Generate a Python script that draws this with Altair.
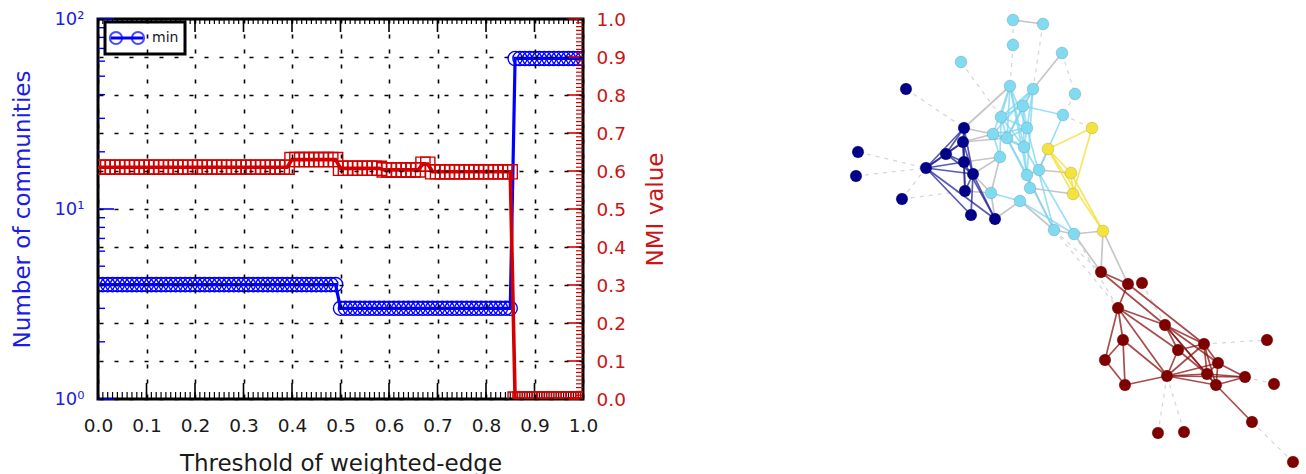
import altair as alt
import pandas as pd

# ---------------- left panel data ----------------
thresholds = [
    0.00, 0.01, 0.02, 0.03, 0.04, 0.05, 0.06, 0.07, 0.08, 0.09,
    0.10, 0.11, 0.12, 0.13, 0.14, 0.15, 0.16, 0.17, 0.18, 0.19,
    0.20, 0.21, 0.22, 0.23, 0.24, 0.25, 0.26, 0.27, 0.28, 0.29,
    0.30, 0.31, 0.32, 0.33, 0.34, 0.35, 0.36, 0.37, 0.38, 0.39,
    0.40, 0.41, 0.42, 0.43, 0.44, 0.45, 0.46, 0.47, 0.48, 0.49,
    0.50, 0.51, 0.52, 0.53, 0.54, 0.55, 0.56, 0.57, 0.58, 0.59,
    0.60, 0.61, 0.62, 0.63, 0.64, 0.65, 0.66, 0.67, 0.68, 0.69,
    0.70, 0.71, 0.72, 0.73, 0.74, 0.75, 0.76, 0.77, 0.78, 0.79,
    0.80, 0.81, 0.82, 0.83, 0.84, 0.85, 0.86, 0.87, 0.88, 0.89,
    0.90, 0.91, 0.92, 0.93, 0.94, 0.95, 0.96, 0.97, 0.98, 0.99,
    1.00,
]
communities = [
    4, 4, 4, 4, 4, 4, 4, 4, 4, 4,
    4, 4, 4, 4, 4, 4, 4, 4, 4, 4,
    4, 4, 4, 4, 4, 4, 4, 4, 4, 4,
    4, 4, 4, 4, 4, 4, 4, 4, 4, 4,
    4, 4, 4, 4, 4, 4, 4, 4, 4, 4,
    3, 3, 3, 3, 3, 3, 3, 3, 3, 3,
    3, 3, 3, 3, 3, 3, 3, 3, 3, 3,
    3, 3, 3, 3, 3, 3, 3, 3, 3, 3,
    3, 3, 3, 3, 3, 3, 62, 62, 62, 62,
    62, 62, 62, 62, 62, 62, 62, 62, 62, 62,
    62,
]
nmi = [
    0.61, 0.61, 0.61, 0.61, 0.61, 0.61, 0.61, 0.61, 0.61, 0.61,
    0.61, 0.61, 0.61, 0.61, 0.61, 0.61, 0.61, 0.61, 0.61, 0.61,
    0.61, 0.61, 0.61, 0.61, 0.61, 0.61, 0.61, 0.61, 0.61, 0.61,
    0.61, 0.61, 0.61, 0.61, 0.61, 0.61, 0.61, 0.61, 0.61, 0.61,
    0.63, 0.63, 0.63, 0.63, 0.63, 0.63, 0.63, 0.63, 0.63, 0.63,
    0.607, 0.607, 0.607, 0.607, 0.607, 0.607, 0.607, 0.607, 0.607, 0.603,
    0.603, 0.603, 0.603, 0.603, 0.603, 0.603, 0.603, 0.618, 0.618, 0.598,
    0.598, 0.598, 0.598, 0.598, 0.598, 0.598, 0.598, 0.598, 0.598, 0.598,
    0.598, 0.598, 0.598, 0.598, 0.598, 0.598, 0.0, 0.0, 0.0, 0.0,
    0.0, 0.0, 0.0, 0.0, 0.0, 0.0, 0.0, 0.0, 0.0, 0.0,
    0.0,
]
legend_labels = ["min"]

x_major = [0.0, 0.1, 0.2, 0.3, 0.4, 0.5, 0.6, 0.7, 0.8, 0.9, 1.0]
x_minor = [round(i * 0.01, 2) for i in range(101)]
comm_major = [1, 10, 100]
comm_minor = [2, 3, 4, 5, 6, 7, 8, 9, 20, 30, 40, 50, 60, 70, 80, 90]
nmi_major = [0.0, 0.1, 0.2, 0.3, 0.4, 0.5, 0.6, 0.7, 0.8, 0.9, 1.0]
nmi_minor = [round(i * 0.01, 2) for i in range(101)]

# ---------------- right panel (network) data ----------------
node_ids = [
    "L0", "L1", "L2", "L3", "L4", "L5", "L6", "L7", "L8", "L9", "L10", "L11",
    "L12", "L13", "L14", "L15", "L16", "L17", "L18", "L19", "L20", "L21", "L22",
    "N0", "N1", "N2", "N3", "N4", "N5", "N6", "N7", "N8", "N9", "N10", "N11", "N12",
    "Y0", "Y1", "Y2", "Y3", "Y4",
    "R0", "R1", "R2", "R3", "R4", "R5", "R6", "R7", "R8", "R9", "R10",
    "R11", "R12", "R13", "R14", "R15", "R16", "R17", "R18", "R19", "R20",
]
node_x = [
    1012, 1042, 1012, 1061, 960, 1009, 1032, 1074, 1022, 1000, 1062, 1026,
    992, 1006, 1023, 999, 1038, 1026, 1029, 990, 1019, 1053, 1073,
    905, 963, 962, 945, 857, 963, 925, 855, 972, 964, 901, 970, 994,
    1091, 1047, 1070, 1072, 1102,
    1100, 1127, 1141, 1117, 1164, 1122, 1203, 1177, 1266, 1104, 1217,
    1206, 1166, 1244, 1124, 1215, 1273, 1251, 1157, 1183, 1292,
]
node_y = [
    19, 23, 44, 52, 61, 85, 88, 93, 105, 116, 114, 127,
    133, 137, 146, 156, 169, 174, 187, 192, 200, 229, 233,
    88, 127, 141, 153, 151, 161, 167, 175, 173, 190, 198, 214, 218,
    127, 148, 172, 193, 230,
    271, 283, 282, 307, 324, 339, 343, 349, 339, 359, 362,
    373, 375, 376, 384, 384, 383, 421, 432, 431, 461,
]
node_group = (["sky"] * 23 + ["navy"] * 13 + ["yellow"] * 5 + ["red"] * 21)

edges_strong = [
    # navy community
    ("N6", "N1"), ("N6", "N2"), ("N6", "N3"), ("N6", "N5"), ("N6", "N8"),
    ("N6", "N11"), ("N6", "N12"), ("N3", "N1"), ("N3", "N2"), ("N3", "N5"),
    ("N3", "N8"), ("N1", "N2"), ("N1", "N5"), ("N1", "N8"), ("N2", "N5"),
    ("N2", "N9"), ("N5", "N9"), ("N8", "N9"), ("N8", "N11"), ("N8", "N12"),
    ("N5", "N12"), ("N2", "N8"),
    # light-blue community
    ("L5", "L9"), ("L5", "L12"), ("L5", "L13"), ("L5", "L11"), ("L5", "L14"),
    ("L5", "L17"), ("L6", "L8"), ("L6", "L9"), ("L6", "L11"), ("L6", "L13"),
    ("L6", "L12"), ("L8", "L9"), ("L8", "L10"), ("L8", "L13"), ("L8", "L11"),
    ("L8", "L14"), ("L9", "L11"), ("L9", "L13"), ("L9", "L14"), ("L11", "L12"),
    ("L11", "L13"), ("L11", "L14"), ("L12", "L13"), ("L12", "L14"), ("L13", "L14"),
    ("L13", "L17"), ("L14", "L17"), ("L10", "L16"), ("L13", "L21"), ("L14", "L22"),
    ("L11", "L21"), ("L19", "L20"), ("L17", "L18"), ("L16", "L17"), ("L20", "L22"),
    ("L9", "L15"), ("L15", "L12"), ("L6", "L17"),
    # yellow community
    ("Y0", "Y1"), ("Y0", "Y3"), ("Y1", "Y2"), ("Y1", "Y3"), ("Y1", "Y4"),
    ("Y2", "Y3"), ("Y2", "Y4"),
    # red community
    ("R0", "R1"), ("R0", "R4"), ("R1", "R3"), ("R1", "R6"), ("R3", "R4"),
    ("R3", "R5"), ("R3", "R9"), ("R3", "R12"), ("R3", "R7"), ("R5", "R9"),
    ("R5", "R14"), ("R5", "R12"), ("R9", "R14"), ("R14", "R12"), ("R12", "R7"),
    ("R12", "R6"), ("R12", "R11"), ("R12", "R15"), ("R12", "R10"), ("R12", "R13"),
    ("R4", "R7"), ("R4", "R6"), ("R4", "R11"), ("R4", "R10"), ("R4", "R15"),
    ("R7", "R6"), ("R7", "R11"), ("R6", "R11"), ("R6", "R10"), ("R6", "R15"),
    ("R10", "R11"), ("R10", "R15"), ("R10", "R13"), ("R11", "R15"), ("R11", "R13"),
    ("R15", "R13"), ("R15", "R17"),
]
edges_gray = [
    ("N1", "L12"), ("N2", "L12"), ("N5", "L15"), ("N8", "L15"), ("N8", "L19"),
    ("N12", "L19"), ("N12", "L20"), ("N9", "L19"), ("N1", "L5"), ("N2", "L13"),
    ("L0", "L1"), ("L3", "L6"), ("L16", "Y1"), ("L16", "Y2"), ("L18", "Y3"),
    ("L20", "L21"), ("L21", "L22"), ("L22", "Y4"), ("Y4", "R0"), ("Y4", "R1"),
    ("L22", "R0"), ("L17", "L21"), ("L15", "L19"),
]
edges_faint = [
    ("N0", "N1"), ("N4", "N6"), ("N7", "N6"), ("N10", "N9"), ("N10", "N6"),
    ("L4", "L9"), ("L2", "L5"), ("L1", "L6"), ("L3", "L7"), ("L7", "L10"),
    ("L10", "Y0"), ("L21", "R0"), ("L22", "R3"), ("L21", "R3"), ("R2", "R4"),
    ("R1", "R2"), ("R6", "R8"), ("R12", "R18"), ("R12", "R19"), ("R17", "R20"),
    ("R13", "R16"), ("L0", "L2"),
]

# ---------------- build tables ----------------
series = pd.DataFrame({"x": thresholds, "comm": communities, "nmi": nmi})
pos = {n: (x, y, g) for n, x, y, g in zip(node_ids, node_x, node_y, node_group)}
nodes = pd.DataFrame({"id": node_ids, "nx": node_x, "ny": node_y, "group": node_group})


def edge_table(pairs):
    rows = []
    for a, b in pairs:
        xa, ya, ga = pos[a]
        xb, yb, gb = pos[b]
        rows.append({"ex": xa, "ey": ya, "ex2": xb, "ey2": yb, "group": ga})
    return pd.DataFrame(rows)


e_strong = edge_table(edges_strong)
e_gray = edge_table(edges_gray)
e_faint = edge_table(edges_faint)

BLUE = "#0000ff"
BLUE_TXT = "#1c1ce6"
RED = "#d40000"
RED_TXT = "#cc1414"
FONT = "DejaVu Sans"
W, H = 485, 380
LBL = 18.5

xscale = alt.Scale(domain=[0, 1], nice=False, zero=False)
log_scale = alt.Scale(type="log", domain=[1, 100], nice=False)
lin_scale = alt.Scale(domain=[0, 1], nice=False, zero=False)

x_axis = alt.Axis(
    values=x_major, format=".1f", labelFontSize=LBL, labelColor="#1a1a1a",
    labelFont=FONT, labelPadding=17, ticks=False, domain=False,
    title="Threshold of weighted-edge", titleFont=FONT, titleFontSize=23,
    titleFontWeight="normal", titleColor="#1a1a1a", titlePadding=18,
    grid=True, gridColor="black", gridDash=[4, 11], gridWidth=1.6,
    gridOpacity=1, zindex=1, labelFlush=False,
)
left_axis = alt.Axis(
    orient="left", values=comm_major,
    labelExpr="datum.value >= 100 ? '10\u00b2' : (datum.value >= 10 ? '10\u00b9' : '10\u2070')",
    labelFontSize=18, labelColor=BLUE_TXT, labelFont=FONT, labelPadding=14,
    ticks=False, domain=False, grid=False,
    title="Number of communities", titleFont=FONT, titleFontSize=23,
    titleFontWeight="normal", titleColor=BLUE_TXT, titlePadding=19,
)
right_axis = alt.Axis(
    orient="right", values=nmi_major, format=".1f", labelFontSize=LBL,
    labelColor=RED_TXT, labelFont=FONT, labelPadding=13, ticks=False,
    domain=False, grid=True, gridColor="black", gridDash=[4, 11],
    gridWidth=1.6, gridOpacity=1, zindex=1,
    title="NMI value", titleFont=FONT, titleFontSize=23, titleAngle=270,
    titleBaseline="top", titleFontWeight="normal", titleColor=RED_TXT,
    titlePadding=19,
)

X = alt.X("x:Q", scale=xscale, axis=x_axis)

# ----- blue (communities, log scale) group -----
blue_line = alt.Chart(series).mark_line(color=BLUE, strokeWidth=3.2, clip=True).encode(
    x=X, y=alt.Y("comm:Q", scale=log_scale, axis=left_axis))
blue_pts = alt.Chart(series).mark_point(
    shape="circle", filled=False, size=200, strokeWidth=1.4, color=BLUE,
    opacity=1, clip=True).encode(
    x=X, y=alt.Y("comm:Q", scale=log_scale, axis=left_axis))
left_major = alt.Chart(pd.DataFrame({"comm": comm_major})).mark_rule(
    color=BLUE, strokeWidth=1.6).encode(
    y=alt.Y("comm:Q", scale=log_scale, axis=left_axis),
    x=alt.value(0), x2=alt.value(16))
left_minor = alt.Chart(pd.DataFrame({"comm": comm_minor})).mark_rule(
    color=BLUE, strokeWidth=1.4).encode(
    y=alt.Y("comm:Q", scale=log_scale, axis=left_axis),
    x=alt.value(0), x2=alt.value(7))
bottom_major = alt.Chart(pd.DataFrame({"x": x_major})).mark_rule(
    color="black", strokeWidth=1.6).encode(x=X, y=alt.value(H), y2=alt.value(H - 16))
bottom_minor = alt.Chart(pd.DataFrame({"x": x_minor})).mark_rule(
    color="black", strokeWidth=1.2).encode(x=X, y=alt.value(H), y2=alt.value(H - 7))
top_major = alt.Chart(pd.DataFrame({"x": x_major})).mark_rule(
    color="black", strokeWidth=1.6).encode(x=X, y=alt.value(0), y2=alt.value(13))
top_minor = alt.Chart(pd.DataFrame({"x": x_minor})).mark_rule(
    color="black", strokeWidth=1.2).encode(x=X, y=alt.value(0), y2=alt.value(5))

left_group = alt.layer(blue_line, blue_pts, left_minor, left_major,
                       bottom_minor, bottom_major, top_minor, top_major)

# ----- red (NMI) group -----
red_line = alt.Chart(series).mark_line(color=RED, strokeWidth=3.6, clip=True).encode(
    x=X, y=alt.Y("nmi:Q", scale=lin_scale, axis=right_axis))
red_pts = alt.Chart(series).mark_point(
    shape="square", filled=False, size=200, strokeWidth=1.4, color=RED,
    opacity=1, clip=True).encode(
    x=X, y=alt.Y("nmi:Q", scale=lin_scale, axis=right_axis))
right_minor = alt.Chart(pd.DataFrame({"nmi": nmi_minor})).mark_rule(
    color=RED, strokeWidth=1.2).encode(
    y=alt.Y("nmi:Q", scale=lin_scale, axis=right_axis),
    x=alt.value(W), x2=alt.value(W - 7))
right_major = alt.Chart(pd.DataFrame({"nmi": nmi_major})).mark_rule(
    color=RED, strokeWidth=1.6).encode(
    y=alt.Y("nmi:Q", scale=lin_scale, axis=right_axis),
    x=alt.value(W), x2=alt.value(W - 16))

right_group = alt.layer(red_line, red_pts, right_minor, right_major)

# ----- legend box -----
leg = pd.DataFrame({"label": legend_labels})
leg_box = alt.Chart(leg).mark_rect(fill="white", stroke="black", strokeWidth=3).encode(
    x=alt.value(7), x2=alt.value(87), y=alt.value(3), y2=alt.value(35))
leg_line = alt.Chart(leg).mark_rule(color=BLUE, strokeWidth=3).encode(
    x=alt.value(13), x2=alt.value(45), y=alt.value(19))
leg_c1 = alt.Chart(leg).mark_point(shape="circle", filled=False, size=150,
                                   strokeWidth=2, color=BLUE).encode(
    x=alt.value(18), y=alt.value(19))
leg_c2 = alt.Chart(leg).mark_point(shape="circle", filled=False, size=150,
                                   strokeWidth=2, color=BLUE).encode(
    x=alt.value(40), y=alt.value(19))
leg_txt = alt.Chart(leg).mark_text(align="left", baseline="middle", fontSize=14,
                                   font=FONT, color="#1a1a1a").encode(
    x=alt.value(54), y=alt.value(19), text="label:N")

left_chart = alt.layer(left_group, right_group, leg_box, leg_line, leg_c1, leg_c2,
                       leg_txt).resolve_scale(y="independent").properties(
    width=W, height=H, view=alt.ViewBackground(stroke="black", strokeWidth=3))

# ----- network panel -----
NX0, NW = 840, 460
nx_scale = alt.Scale(domain=[NX0, NX0 + NW], nice=False, zero=False)
ny_scale = alt.Scale(domain=[18, 18 + H], nice=False, zero=False, reverse=True)
grp_scale = alt.Scale(domain=["navy", "sky", "yellow", "red"],
                      range=["#000088", "#7fdaf2", "#f4e33c", "#800000"])
edge_scale = alt.Scale(domain=["navy", "sky", "yellow", "red"],
                       range=["#222299", "#79d6f0", "#f2df2e", "#8a1010"])

faint = alt.Chart(e_faint).mark_rule(color="#d8d8d8", strokeWidth=1.3,
                                     strokeDash=[4, 5]).encode(
    x=alt.X("ex:Q", scale=nx_scale, axis=None),
    y=alt.Y("ey:Q", scale=ny_scale, axis=None),
    x2="ex2:Q", y2="ey2:Q")
gray = alt.Chart(e_gray).mark_rule(color="#c6c6c6", strokeWidth=1.7).encode(
    x=alt.X("ex:Q", scale=nx_scale, axis=None),
    y=alt.Y("ey:Q", scale=ny_scale, axis=None),
    x2="ex2:Q", y2="ey2:Q")
strong = alt.Chart(e_strong).mark_rule(strokeWidth=1.7, opacity=0.75).encode(
    x=alt.X("ex:Q", scale=nx_scale, axis=None),
    y=alt.Y("ey:Q", scale=ny_scale, axis=None),
    x2="ex2:Q", y2="ey2:Q",
    color=alt.Color("group:N", scale=edge_scale, legend=None))
node_marks = alt.Chart(nodes).mark_circle(size=140, opacity=1, stroke="#555555",
                                          strokeWidth=0.6, strokeOpacity=0.35).encode(
    x=alt.X("nx:Q", scale=nx_scale, axis=None),
    y=alt.Y("ny:Q", scale=ny_scale, axis=None),
    fill=alt.Fill("group:N", scale=grp_scale, legend=None))

network = alt.layer(faint, gray, strong, node_marks).resolve_scale(
    color="independent").properties(width=NW, height=H,
                                    view=alt.ViewBackground(strokeWidth=0))

chart = alt.hconcat(left_chart, network, spacing=172).properties(
    padding={"left": 10, "top": 8, "right": 0, "bottom": 0}
).configure(background="white").configure_view(strokeWidth=0)

chart.save("out.html", embed_options={"renderer": "svg", "actions": False})
